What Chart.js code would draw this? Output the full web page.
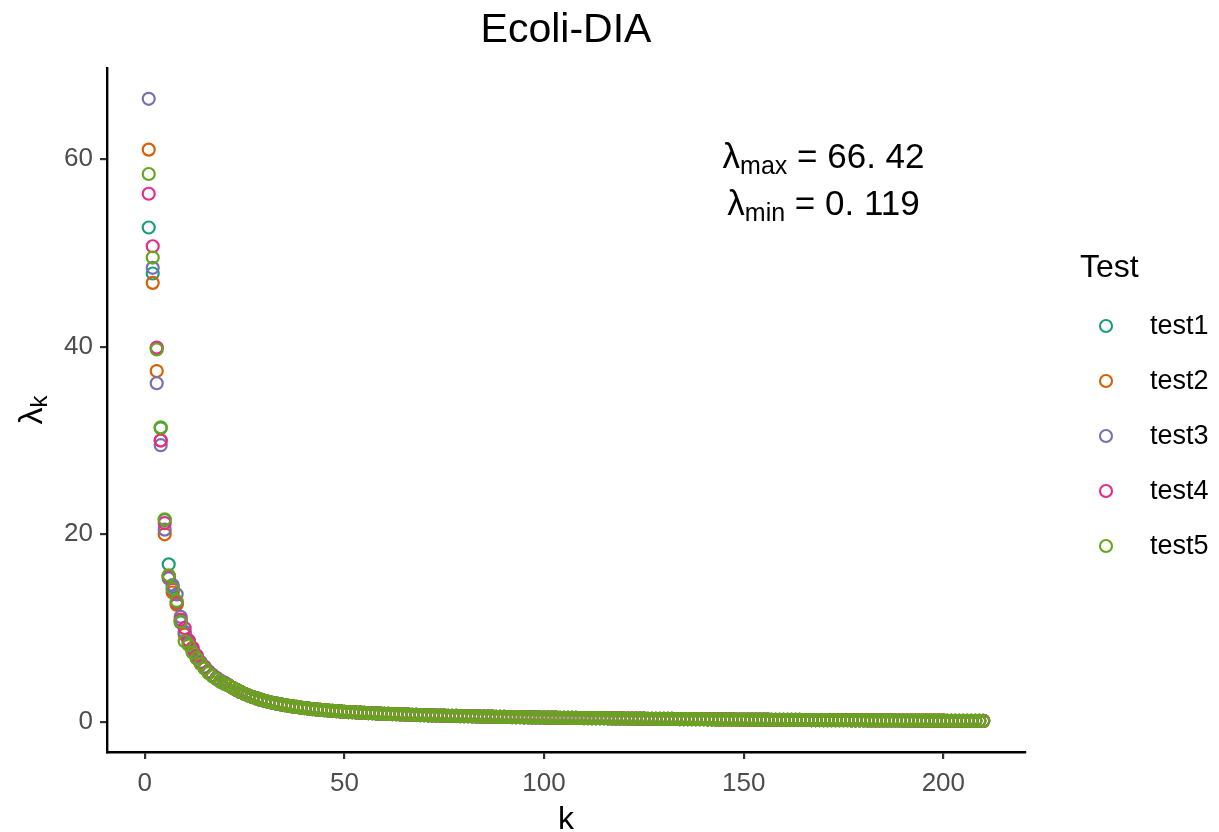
<!DOCTYPE html>
<html>
<head>
<meta charset="utf-8">
<script src="https://cdn.jsdelivr.net/npm/chart.js@4.4.1/dist/chart.umd.min.js"></script>
<style>
  body { margin: 0; background: #ffffff; }
  canvas { display: block; }
</style>
</head>
<body>
<canvas id="eigen_scatter" width="1219" height="832"></canvas>
<script>
// values: k = 1..20 per test, then the common tail (k = 21..210)
const seriesNames = ["test1", "test2", "test3", "test4", "test5"];

const test1Head = [52.7, 47.8, 39.8, 31.3, 21.5, 16.8, 14.4, 12.6, 10.6, 9.6, 8.5, 7.6, 6.9, 6.3, 5.8, 5.35, 4.95, 4.6, 4.35, 4.15];
const test2Head = [61.0, 46.8, 37.4, 30.0, 20.0, 15.6, 13.8, 12.5, 10.8, 9.3, 8.3, 7.8, 6.8, 6.2, 5.7, 5.3, 5.0, 4.65, 4.35, 4.1];
const test3Head = [66.42, 48.4, 36.1, 29.5, 20.5, 15.3, 14.6, 13.6, 11.2, 9.5, 8.6, 7.5, 7.0, 6.4, 5.9, 5.4, 5.0, 4.7, 4.4, 4.2];
const test4Head = [56.3, 50.7, 39.9, 30.0, 21.2, 15.5, 14.1, 12.8, 10.9, 10.0, 8.7, 7.9, 7.1, 6.3, 5.8, 5.3, 4.9, 4.6, 4.3, 4.1];
const test5Head = [58.4, 49.5, 39.7, 31.4, 21.6, 15.6, 14.2, 12.9, 10.7, 8.6, 8.2, 7.4, 6.8, 6.2, 5.7, 5.2, 4.85, 4.55, 4.3, 4.05];

const sharedTail = [
  3.9, 3.65, 3.42, 3.2, 3.0, 2.82, 2.66, 2.51, 2.38, 2.26,
  2.15, 2.05, 1.96, 1.88, 1.80, 1.73, 1.66, 1.60, 1.54, 1.48,
  1.43, 1.38, 1.34, 1.30, 1.26, 1.22, 1.18, 1.15, 1.12, 1.09,
  1.06, 1.04, 1.01, 0.99, 0.97, 0.95, 0.93, 0.91, 0.89, 0.87,
  0.86, 0.84, 0.83, 0.81, 0.80, 0.78, 0.77, 0.76, 0.74, 0.73,
  0.71, 0.70, 0.69, 0.68, 0.67, 0.66, 0.65, 0.64, 0.63, 0.62,
  0.61, 0.60, 0.59, 0.58, 0.575, 0.57, 0.56, 0.55, 0.54, 0.535,
  0.53, 0.52, 0.515, 0.51, 0.50, 0.495, 0.49, 0.48, 0.475, 0.47,
  0.465, 0.46, 0.455, 0.45, 0.445, 0.44, 0.435, 0.43, 0.425, 0.42,
  0.415, 0.41, 0.405, 0.40, 0.395, 0.39, 0.385, 0.38, 0.375, 0.37,
  0.366, 0.362, 0.358, 0.354, 0.350, 0.346, 0.342, 0.338, 0.334, 0.330,
  0.326, 0.322, 0.318, 0.314, 0.310, 0.306, 0.302, 0.298, 0.294, 0.290,
  0.286, 0.282, 0.279, 0.276, 0.273, 0.270, 0.267, 0.264, 0.261, 0.258,
  0.255, 0.252, 0.249, 0.246, 0.243, 0.240, 0.237, 0.234, 0.231, 0.228,
  0.225, 0.222, 0.219, 0.216, 0.213, 0.210, 0.207, 0.204, 0.201, 0.198,
  0.195, 0.192, 0.189, 0.186, 0.184, 0.182, 0.180, 0.178, 0.176, 0.174,
  0.172, 0.170, 0.168, 0.166, 0.164, 0.162, 0.160, 0.158, 0.156, 0.154,
  0.152, 0.150, 0.148, 0.146, 0.144, 0.142, 0.140, 0.138, 0.136, 0.134,
  0.132, 0.130, 0.129, 0.128, 0.127, 0.126, 0.124, 0.122, 0.120, 0.119,
];

const xTicks = [0, 50, 100, 150, 200];
const yTicks = [0, 20, 40, 60];
const lambdaMax = "66. 42";
const lambdaMin = "0. 119";

const heads = [test1Head, test2Head, test3Head, test4Head, test5Head];
const colors = ["#1B9E77", "#D95F02", "#7570B3", "#E7298A", "#66A61E"];
const FONT = "'Liberation Sans', Arial, sans-serif";

const toPoints = (values) => values.map((v, i) => ({ x: i + 1, y: v }));

const datasets = seriesNames.map((name, i) => ({
  label: name,
  data: toPoints(heads[i].concat(sharedTail)),
  borderColor: colors[i],
  backgroundColor: "rgba(0,0,0,0)",
  pointRadius: 6,
  pointBorderWidth: 2.2,
  pointStyle: "circle",
  showLine: false,
  order: seriesNames.length - 1 - i, // test5 ends up on top
}));

const drawSub = (ctx, x, y, main, sub, rest, big, small, shift) => {
  ctx.font = `${big}px ${FONT}`;
  const w1 = ctx.measureText(main).width;
  ctx.font = `${small}px ${FONT}`;
  const w2 = ctx.measureText(sub).width;
  ctx.font = `${big}px ${FONT}`;
  const w3 = rest ? ctx.measureText(rest).width : 0;
  let cx = x - (w1 + w2 + w3) / 2;
  ctx.textAlign = "left";
  ctx.textBaseline = "alphabetic";
  ctx.fillText(main, cx, y);
  cx += w1;
  ctx.font = `${small}px ${FONT}`;
  ctx.fillText(sub, cx, y + shift);
  cx += w2;
  if (rest) {
    ctx.font = `${big}px ${FONT}`;
    ctx.fillText(rest, cx, y);
  }
};

const decorations = {
  id: "decorations",
  afterDraw(chart) {
    const { ctx, chartArea, scales } = chart;
    const midX = (chartArea.left + chartArea.right) / 2;
    ctx.save();
    ctx.fillStyle = "#000000";

    // title
    ctx.font = `41px ${FONT}`;
    ctx.textAlign = "center";
    ctx.textBaseline = "alphabetic";
    ctx.fillText("Ecoli-DIA", midX, 42);

    // x axis title
    ctx.font = `32px ${FONT}`;
    ctx.fillText("k", midX, 829);

    // y axis title
    ctx.save();
    ctx.translate(42, (chartArea.top + chartArea.bottom) / 2);
    ctx.rotate(-Math.PI / 2);
    drawSub(ctx, 0, 0, "λ", "k", "", 34, 24, 5);
    ctx.restore();

    // annotation
    const ax = scales.x.getPixelForValue(170);
    drawSub(ctx, ax, scales.y.getPixelForValue(59.0), "λ", "max", " = " + lambdaMax, 35, 25, 6);
    drawSub(ctx, ax, scales.y.getPixelForValue(54.0), "λ", "min", " = " + lambdaMin, 35, 25, 6);

    // legend
    ctx.font = `32px ${FONT}`;
    ctx.textAlign = "left";
    ctx.fillText("Test", 1080, 277);
    chart.data.datasets.forEach((ds, i) => {
      const y = 326 + i * 55;
      ctx.beginPath();
      ctx.arc(1106, y, 6, 0, Math.PI * 2);
      ctx.strokeStyle = ds.borderColor;
      ctx.lineWidth = 2.1;
      ctx.stroke();
      ctx.font = `27px ${FONT}`;
      ctx.textBaseline = "middle";
      ctx.fillText(ds.label, 1150, y + 1);
      ctx.textBaseline = "alphabetic";
    });
    ctx.restore();
  },
};

new Chart(document.getElementById("eigen_scatter"), {
  type: "scatter",
  data: { datasets },
  options: {
    responsive: false,
    animation: false,
    layout: {
      padding: { top: 68, right: 194, left: 0, bottom: 0 },
    },
    scales: {
      x: {
        type: "linear",
        min: -9.45,
        max: 220.45,
        afterBuildTicks: (scale) => {
          scale.ticks = xTicks.map((v) => ({ value: v }));
        },
        afterFit: (scale) => {
          scale.height = 80;
        },
        border: { display: true, color: "#000000", width: 2.4 },
        grid: {
          display: true,
          drawOnChartArea: false,
          drawTicks: true,
          tickLength: 7,
          color: "#333333",
          lineWidth: 2.2,
        },
        ticks: {
          color: "#4d4d4d",
          padding: 9,
          font: { family: FONT, size: 26 },
        },
      },
      y: {
        type: "linear",
        min: -3.2,
        max: 69.7,
        afterBuildTicks: (scale) => {
          scale.ticks = yTicks.map((v) => ({ value: v }));
        },
        afterFit: (scale) => {
          scale.width = 107;
        },
        border: { display: true, color: "#000000", width: 2.4 },
        grid: {
          display: true,
          drawOnChartArea: false,
          drawTicks: true,
          tickLength: 7,
          color: "#333333",
          lineWidth: 2.2,
        },
        ticks: {
          color: "#4d4d4d",
          padding: 7,
          font: { family: FONT, size: 26 },
        },
      },
    },
    plugins: {
      legend: { display: false },
      title: { display: false },
      tooltip: { enabled: false },
    },
  },
  plugins: [decorations],
});
</script>
</body>
</html>
